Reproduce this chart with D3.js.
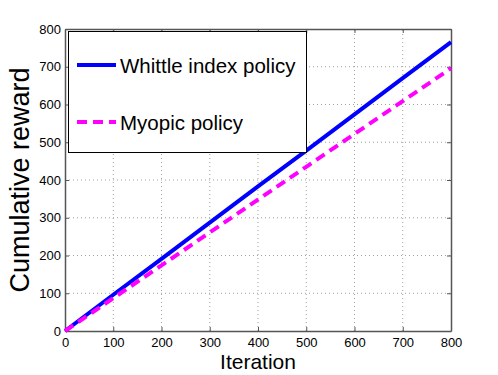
<!DOCTYPE html>
<html>
<head>
<meta charset="utf-8">
<script src="https://cdn.jsdelivr.net/npm/d3@7"></script>
<style>
  html, body { margin: 0; padding: 0; background: #fff; }
  svg { display: block; font-family: "Liberation Sans", Arial, Helvetica, sans-serif; }
</style>
</head>
<body>
<svg id="chart" width="498" height="375"></svg>
<script>
// values, one point every 100 iterations
const iterations = [0, 100, 200, 300, 400, 500, 600, 700, 800]
const whittle = [0, 96, 191, 287, 383, 478, 574, 670, 765]
const myopic = [0, 87, 174, 261, 348, 435, 522, 609, 696]
const seriesNames = ['Whittle index policy', 'Myopic policy']
const xTicks = [0, 100, 200, 300, 400, 500, 600, 700, 800]
const yTicks = [0, 100, 200, 300, 400, 500, 600, 700, 800]

const margin = { left: 65, right: 47, top: 29, bottom: 44 }
const W = 498, H = 375
const svg = d3.select('#chart')

const x = d3.scaleLinear().domain([0, 800]).range([margin.left, W - margin.right])
const y = d3.scaleLinear().domain([0, 800]).range([H - margin.bottom, margin.top])

const gridColor = '#a0a0a0'
const axisColor = '#555'

// dotted grid
svg.append('g').selectAll('line').data(xTicks.slice(1, -1)).enter().append('line')
  .attr('x1', d => x(d)).attr('x2', d => x(d))
  .attr('y1', y(0)).attr('y2', y(800))
  .attr('stroke', gridColor).attr('stroke-width', 1).attr('stroke-dasharray', '1,3')
svg.append('g').selectAll('line').data(yTicks.slice(1, -1)).enter().append('line')
  .attr('y1', d => y(d)).attr('y2', d => y(d))
  .attr('x1', x(0)).attr('x2', x(800))
  .attr('stroke', gridColor).attr('stroke-width', 1).attr('stroke-dasharray', '1,3')

// axes with inward ticks
const xAxis = svg.append('g').attr('transform', `translate(0,${y(0)})`)
  .call(d3.axisBottom(x).tickValues(xTicks).tickSizeInner(-4).tickSizeOuter(0).tickPadding(7))
const yAxis = svg.append('g').attr('transform', `translate(${x(0)},0)`)
  .call(d3.axisLeft(y).tickValues(yTicks).tickSizeInner(-4).tickSizeOuter(0).tickPadding(4))
const xTop = svg.append('g').attr('transform', `translate(0,${y(800)})`)
  .call(d3.axisTop(x).tickValues(xTicks).tickSizeInner(-4).tickSizeOuter(0).tickFormat(''))
const yRight = svg.append('g').attr('transform', `translate(${x(800)},0)`)
  .call(d3.axisRight(y).tickValues(yTicks).tickSizeInner(-4).tickSizeOuter(0).tickFormat(''))

for (const ax of [xAxis, yAxis, xTop, yRight]) {
  ax.select('.domain').attr('stroke', axisColor).attr('stroke-width', 1.5)
  ax.selectAll('.tick line').attr('stroke', axisColor)
  ax.selectAll('.tick text').attr('fill', '#000').attr('font-size', '13px')
    .attr('font-family', '"Liberation Sans", Arial, sans-serif')
}

// series
const line = d3.line().x((d, i) => x(iterations[i])).y(d => y(d))
const plot = svg.append('g')
plot.append('path').datum(whittle).attr('d', line)
  .attr('fill', 'none').attr('stroke', '#0000ff').attr('stroke-width', 4)
plot.append('path').datum(myopic).attr('d', line)
  .attr('fill', 'none').attr('stroke', '#ff00ff').attr('stroke-width', 4)
  .attr('stroke-dasharray', '10,6')

// legend
const legend = svg.append('g')
legend.append('rect')
  .attr('x', 68.5).attr('y', 31.5).attr('width', 238).attr('height', 121)
  .attr('fill', '#fff').attr('stroke', '#000').attr('stroke-width', 1)
const legendItems = [
  { name: seriesNames[0], color: '#0000ff', dash: null, y: 65 },
  { name: seriesNames[1], color: '#ff00ff', dash: '10,6', y: 122 }
]
for (const item of legendItems) {
  legend.append('line')
    .attr('x1', 77).attr('x2', 116).attr('y1', item.y).attr('y2', item.y)
    .attr('stroke', item.color).attr('stroke-width', 4)
    .attr('stroke-dasharray', item.dash)
  legend.append('text')
    .attr('x', 120).attr('y', item.y + 7.5)
    .attr('font-size', '20.5px').attr('fill', '#000')
    .text(item.name)
}

// axis titles
svg.append('text')
  .attr('x', (x(0) + x(800)) / 2).attr('y', 369)
  .attr('text-anchor', 'middle').attr('font-size', '21px')
  .text('Iteration')
svg.append('text')
  .attr('transform', `translate(29,${(y(0) + y(800)) / 2}) rotate(-90)`)
  .attr('text-anchor', 'middle').attr('font-size', '27px')
  .text('Cumulative reward')
</script>
</body>
</html>
